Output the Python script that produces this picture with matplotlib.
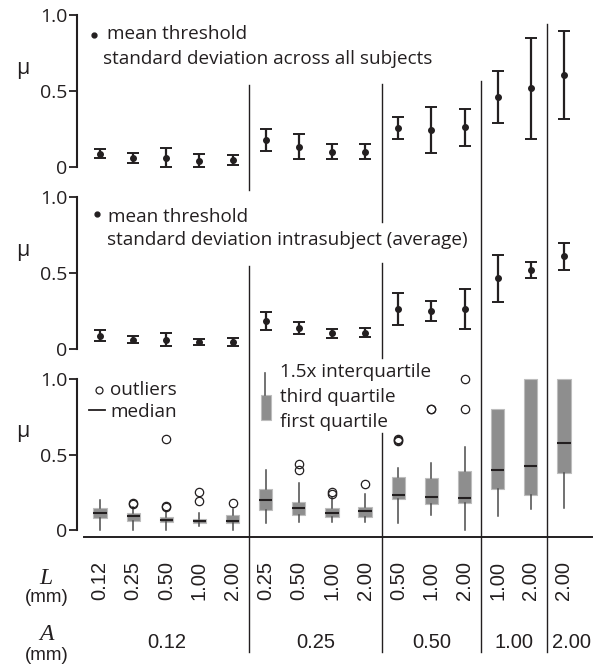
import numpy as np
import matplotlib.pyplot as plt
from matplotlib.patches import Rectangle

plt.rcParams['font.family'] = ['Open Sans', 'DejaVu Sans']

# conditions: amplitude A groups, each with its L values
a_groups = ['0.12', '0.25', '0.50', '1.00', '2.00']
group_sizes = [5, 4, 3, 2, 1]
l_labels = ['0.12', '0.25', '0.50', '1.00', '2.00',
            '0.25', '0.50', '1.00', '2.00',
            '0.50', '1.00', '2.00',
            '1.00', '2.00',
            '2.00']

# top panel: mean threshold, sd across all subjects
mean_all = [0.087, 0.060, 0.062, 0.042, 0.045, 0.180, 0.133, 0.100, 0.100,
            0.258, 0.243, 0.260, 0.460, 0.517, 0.605]
sd_all = [0.030, 0.033, 0.062, 0.042, 0.035, 0.073, 0.083, 0.050, 0.050,
          0.073, 0.150, 0.122, 0.172, 0.333, 0.290]

# middle panel: mean threshold, sd intrasubject (average)
mean_intra = [0.088, 0.061, 0.061, 0.046, 0.046, 0.184, 0.140, 0.103, 0.107,
              0.263, 0.250, 0.263, 0.465, 0.520, 0.610]
sd_intra = [0.035, 0.024, 0.043, 0.018, 0.024, 0.060, 0.040, 0.028, 0.028,
            0.103, 0.066, 0.133, 0.155, 0.054, 0.090]

# bottom panel: box plot stats
whislo = [0.0, 0.0, 0.0, 0.026, 0.0, 0.048, 0.05, 0.05, 0.05,
          0.044, 0.10, 0.0, 0.093, 0.139, 0.148]
q1 = [0.080, 0.062, 0.051, 0.047, 0.048, 0.132, 0.099, 0.088, 0.088,
      0.203, 0.172, 0.177, 0.272, 0.232, 0.380]
med = [0.110, 0.093, 0.066, 0.058, 0.062, 0.199, 0.144, 0.110, 0.128,
       0.232, 0.220, 0.214, 0.400, 0.426, 0.578]
q3 = [0.145, 0.110, 0.084, 0.075, 0.099, 0.270, 0.188, 0.143, 0.155,
      0.349, 0.342, 0.390, 0.800, 1.000, 1.000]
whishi = [0.200, 0.150, 0.120, 0.115, 0.140, 0.400, 0.309, 0.216, 0.238,
          0.408, 0.446, 0.548, 0.800, 1.000, 1.000]
fliers = [[], [0.177, 0.172], [0.60, 0.161, 0.155], [0.19, 0.254], [0.177],
          [], [0.397, 0.435], [0.24, 0.25], [0.305],
          [0.59, 0.595, 0.60], [0.80, 0.80], [0.80, 1.00],
          [], [], []]

x = np.arange(len(l_labels))
bounds = np.cumsum(group_sizes)[:-1] - 0.5
starts = np.concatenate([[0], np.cumsum(group_sizes)[:-1]])
centers = starts + (np.array(group_sizes) - 1) / 2

# pixel layout
W, H = 603, 666
X0, DX = 100, 33.14
def xd(px):
    return (px - X0) / DX

dark = '#231f20'
fig = plt.figure(figsize=(W / 100, H / 100), dpi=100)

def panel(y0, scale):
    top = y0 - 1.08 * scale
    bot = y0 + 0.12 * scale
    ax = fig.add_axes([84 / W, 1 - bot / H, 508 / W, (bot - top) / H])
    ax.set_xlim(xd(84), xd(592))
    ax.set_ylim(-0.12, 1.08)
    ax.patch.set_alpha(0)
    for s in ['top', 'right', 'bottom']:
        ax.spines[s].set_visible(False)
    ax.spines['left'].set_position(('outward', 5))
    ax.spines['left'].set_bounds(0, 1)
    ax.spines['left'].set_linewidth(1.5)
    ax.spines['left'].set_color(dark)
    ax.set_xticks([])
    ax.set_yticks([0, 0.5, 1.0])
    ax.set_yticklabels(['0', '0.5', '1.0'])
    ax.tick_params(axis='y', direction='out', length=5.5, width=1.3,
                   pad=1.5, labelsize=14, color=dark, labelcolor=dark)
    ax.text(xd(23), 0.65, 'μ', fontsize=15.5, ha='center', va='center',
            color=dark, clip_on=False)
    return ax

ax1 = panel(167, 152)
ax2 = panel(349, 152)
ax3 = panel(530, 151)

eb = dict(fmt='o', ms=4, color=dark, ecolor=dark, elinewidth=1.6,
          capsize=4, capthick=1.4)
ax1.errorbar(x, mean_all, yerr=sd_all, **eb)
ax2.errorbar(x, mean_intra, yerr=sd_intra, **eb)

lt = dict(fontsize=13.6, color=dark, va='baseline', clip_on=False)
ax1.plot(xd(94), 0.868, 'o', ms=3.5, color=dark, clip_on=False)
ax1.text(xd(107), 0.842, 'mean threshold', **lt)
ax1.text(xd(103), 0.676, 'standard deviation across all subjects', **lt)
ax2.plot(xd(97), 0.888, 'o', ms=3.5, color=dark, clip_on=False)
ax2.text(xd(108), 0.836, 'mean threshold', **lt)
ax2.text(xd(107), 0.684, 'standard deviation intrasubject (average)', **lt)

stats = [dict(med=m, q1=a, q3=b, whislo=lo, whishi=hi, fliers=f)
         for m, a, b, lo, hi, f in zip(med, q1, q3, whislo, whishi, fliers)]
ax3.bxp(stats, positions=x, widths=0.4, patch_artist=True, showcaps=False,
        manage_ticks=False,
        boxprops=dict(facecolor='#8e8e8e', edgecolor='#bdbdbd', linewidth=0.8),
        whiskerprops=dict(color='#4a4a4a', linewidth=1.1),
        medianprops=dict(color=dark, linewidth=1.5),
        flierprops=dict(marker='o', markerfacecolor='none',
                        markeredgecolor=dark, markersize=6,
                        markeredgewidth=0.9))
ax3.spines['bottom'].set_visible(True)
ax3.spines['bottom'].set_position(('data', -0.046))
ax3.spines['bottom'].set_linewidth(1.4)
ax3.spines['bottom'].set_color(dark)

# bottom legend
ax3.plot(xd(99), 0.927, 'o', ms=5, mfc='none', mec=dark, mew=0.9, clip_on=False)
ax3.text(xd(110), 0.894, 'outliers', **lt)
ax3.plot([xd(89), xd(105)], [0.795, 0.795], color=dark, lw=1.3, clip_on=False)
ax3.text(xd(110), 0.748, 'median', **lt)
ax3.plot([xd(265), xd(265)], [0.894, 1.04], color='#5a5a5a', lw=1.2, clip_on=False)
ax3.add_patch(Rectangle((xd(261), 0.728), 10 / DX, 0.166,
                        facecolor='#8e8e8e', edgecolor='#bdbdbd', lw=0.8,
                        clip_on=False))
ax3.text(xd(280), 1.013, '1.5x interquartile', **lt)
ax3.text(xd(280), 0.848, 'third quartile', **lt)
ax3.text(xd(280), 0.682, 'first quartile', **lt)

# overlay in pixel rows for separators and condition labels
ov = fig.add_axes([0, 0, 1, 1])
ov.set_xlim(xd(0), xd(W))
ov.set_ylim(H, 0)
ov.axis('off')
ov.patch.set_alpha(0)

sep_segments = [[(85, 190), (266, 652)],
                [(84, 222), (263, 358), (433, 652)],
                [(81, 652)],
                [(24, 652)]]
for b, segs in zip(bounds, sep_segments):
    for y0, y1 in segs:
        ov.plot([b, b], [y0, y1], color=dark, lw=1.0)

for xi, lab in zip(x, l_labels):
    ov.text(xi, 581, lab, rotation=90, ha='center', va='center',
            fontsize=14.5, family='Liberation Sans', color=dark)
for i, (c, lab) in enumerate(zip(centers, a_groups)):
    if i == len(a_groups) - 1:
        ov.text(bounds[-1] + 0.14, 643, lab, ha='left', va='center',
                fontsize=14.5, family='Liberation Sans', color=dark)
    else:
        ov.text(c, 643, lab, ha='center', va='center',
                fontsize=14.5, family='Liberation Sans', color=dark)

ov.text(xd(46), 578, 'L', ha='center', va='center', fontsize=17,
        family='Liberation Serif', style='italic', color=dark)
ov.text(xd(47), 598, '(mm)', ha='center', va='center', fontsize=13.5,
        family='Liberation Sans', color=dark)
ov.text(xd(46), 635, 'A', ha='center', va='center', fontsize=17,
        family='Liberation Serif', style='italic', color=dark)
ov.text(xd(47), 655, '(mm)', ha='center', va='center', fontsize=13.5,
        family='Liberation Sans', color=dark)

fig.savefig('out.png', dpi=100)
